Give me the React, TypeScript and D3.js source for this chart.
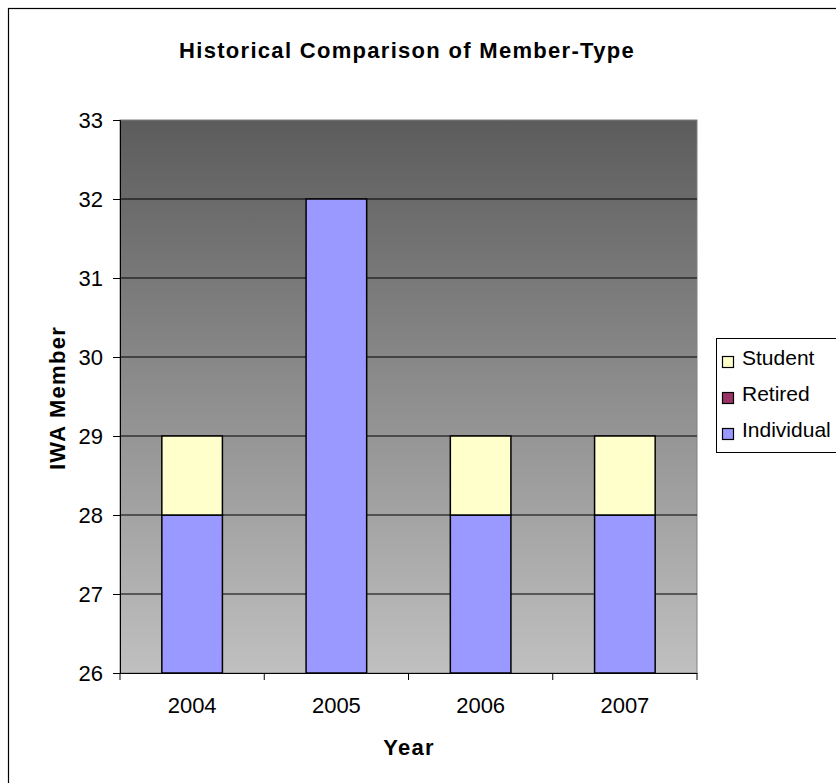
import React, { useEffect, useRef } from 'react';
import * as d3 from 'd3';

const years = ['2004', '2005', '2006', '2007'];
const individual = [28, 32, 28, 28];
const retired = [0, 0, 0, 0];
const student = [1, 0, 1, 1];
const seriesNames = ['Individual', 'Retired', 'Student'];
const seriesColors = ['#9999ff', '#993366', '#ffffcc'];
const yTicks = [26, 27, 28, 29, 30, 31, 32, 33];

const App: React.FC = () => {
  const svgRef = useRef<SVGSVGElement>(null);

  useEffect(() => {
    const width = 836;
    const height = 783;
    const margin = { top: 120, left: 120, right: 139, bottom: 110 };
    const innerW = width - margin.left - margin.right;
    const innerH = height - margin.top - margin.bottom;
    const font = 'Arial, "Liberation Sans", sans-serif';

    const svg = d3.select(svgRef.current)
      .attr('width', width)
      .attr('height', height);
    svg.selectAll('*').remove();

    // outer chart border
    svg.append('rect')
      .attr('x', 8.5).attr('y', 8.5)
      .attr('width', width).attr('height', height)
      .attr('fill', '#fff')
      .attr('stroke', '#000')
      .attr('stroke-width', 1.2);

    const defs = svg.append('defs');
    const grad = defs.append('linearGradient')
      .attr('id', 'bg').attr('x1', 0).attr('y1', 0).attr('x2', 0).attr('y2', 1);
    grad.append('stop').attr('offset', '0%').attr('stop-color', '#5c5c5c');
    grad.append('stop').attr('offset', '100%').attr('stop-color', '#c0c0c0');

    const g = svg.append('g').attr('transform', `translate(${margin.left},${margin.top})`);

    const x = d3.scaleBand().domain(years).range([0, innerW]).paddingInner(0.58).paddingOuter(0.29);
    const y = d3.scaleLinear().domain([26, 33]).range([innerH, 0]);

    g.append('rect')
      .attr('width', innerW).attr('height', innerH)
      .attr('fill', 'url(#bg)')
      .attr('stroke', '#808080');

    // gridlines
    g.selectAll('line.grid')
      .data(yTicks.slice(1, -1))
      .enter().append('line')
      .attr('x1', 0).attr('x2', innerW)
      .attr('y1', d => y(d)).attr('y2', d => y(d))
      .attr('stroke', '#000').attr('stroke-width', 1);

    // stacked bars
    const rows = years.map((yr, i) => ({ year: yr, Individual: individual[i], Retired: retired[i], Student: student[i] }));
    const stacked = d3.stack<any>().keys(seriesNames)(rows);
    stacked.forEach((s, si) => {
      g.append('g').selectAll('rect')
        .data(s.filter(d => d[1] - d[0] > 0))
        .enter().append('rect')
        .attr('x', d => x(d.data.year) as number)
        .attr('width', x.bandwidth())
        .attr('y', d => y(d[1]))
        .attr('height', d => y(Math.max(d[0], 26)) - y(d[1]))
        .attr('fill', seriesColors[si])
        .attr('stroke', '#000')
        .attr('stroke-width', 1.5);
    });

    // y axis
    const yAxis = g.append('g')
      .call(d3.axisLeft(y).tickValues(yTicks).tickSize(7).tickPadding(10).tickFormat(d3.format('d')));
    yAxis.select('.domain').attr('stroke', '#000');
    yAxis.selectAll('text').attr('font-family', font).attr('font-size', 22).attr('fill', '#000');

    // x axis
    const xAxis = g.append('g').attr('transform', `translate(0,${innerH})`)
      .call(d3.axisBottom(x).tickSize(0).tickPadding(24));
    xAxis.select('.domain').attr('stroke', '#000');
    xAxis.selectAll('text').attr('font-family', font).attr('font-size', 22).attr('fill', '#000');
    const step = innerW / years.length;
    xAxis.selectAll('line.sep')
      .data(d3.range(years.length + 1))
      .enter().append('line')
      .attr('x1', d => d * step).attr('x2', d => d * step)
      .attr('y1', 0).attr('y2', 7)
      .attr('stroke', '#000');

    // title and axis titles
    svg.append('text')
      .attr('x', 407).attr('y', 58)
      .attr('text-anchor', 'middle')
      .attr('font-family', font).attr('font-weight', 'bold').attr('font-size', 22)
      .attr('letter-spacing', 1.3)
      .text('Historical Comparison of Member-Type');

    svg.append('text')
      .attr('x', 409).attr('y', 755)
      .attr('text-anchor', 'middle')
      .attr('font-family', font).attr('font-weight', 'bold').attr('font-size', 22)
      .attr('letter-spacing', 1.3)
      .text('Year');

    svg.append('text')
      .attr('transform', `translate(65,398) rotate(-90)`)
      .attr('text-anchor', 'middle')
      .attr('font-family', font).attr('font-weight', 'bold').attr('font-size', 22)
      .attr('letter-spacing', 1.3)
      .text('IWA Member');

    // legend
    const lg = svg.append('g').attr('transform', 'translate(716,338)');
    lg.append('rect')
      .attr('x', 0.5).attr('y', 0.5)
      .attr('width', 140).attr('height', 114)
      .attr('fill', '#fff').attr('stroke', '#000');
    const legendOrder = [2, 1, 0];
    legendOrder.forEach((si, k) => {
      const row = lg.append('g').attr('transform', `translate(0,${27 + k * 36})`);
      row.append('rect')
        .attr('x', 6.5).attr('y', -8.5).attr('width', 11).attr('height', 11)
        .attr('fill', seriesColors[si]).attr('stroke', '#000').attr('stroke-width', 1.2);
      row.append('text')
        .attr('x', 26).attr('y', 0)
        .attr('font-family', font).attr('font-size', 21)
        .text(seriesNames[si]);
    });
  }, []);

  return <svg ref={svgRef} style={{ position: 'absolute', left: 0, top: 0 }}></svg>;
};

export default App;
